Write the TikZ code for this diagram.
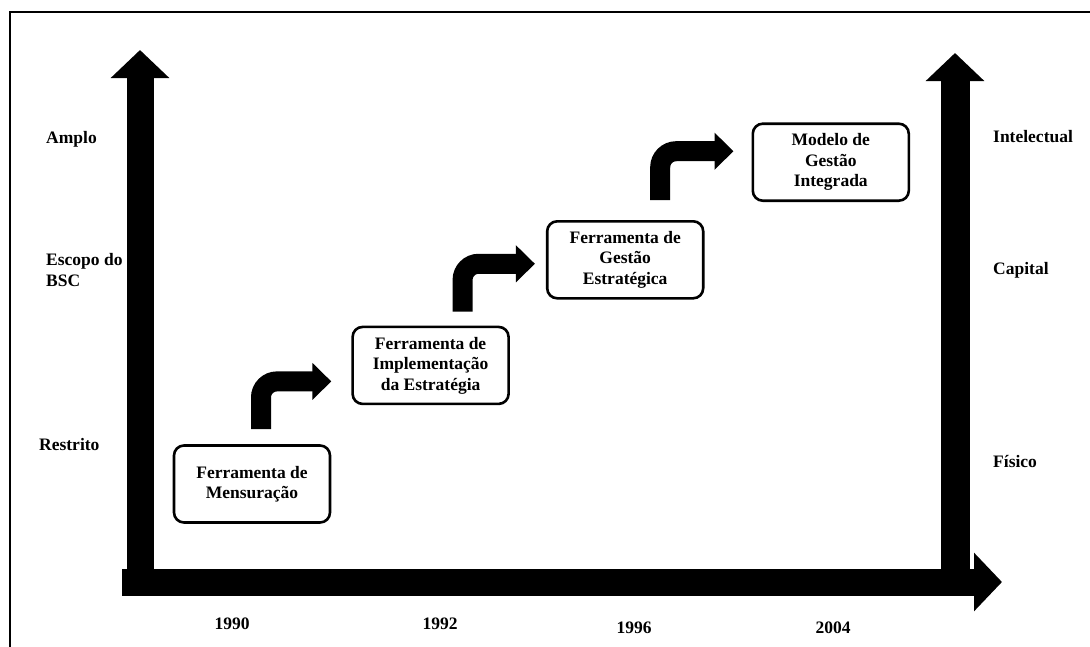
\documentclass[tikz,border=0pt]{standalone}
\usepackage{fontspec}
\setmainfont{Liberation Serif}
\usetikzlibrary{arrows.meta, positioning}

\tikzset{
    stage/.style={draw, rectangle, rounded corners=10pt, line width=2.6pt, minimum width=156pt, minimum height=77pt, align=center, font=\fontsize{17.5}{20.5}\selectfont\bfseries},
    axislabel/.style={font=\fontsize{17.5}{21}\selectfont\bfseries, align=left, inner sep=0pt},
    yearlabel/.style={font=\fontsize{17.5}{21}\selectfont\bfseries, inner sep=0pt},
    turnarrow/.style={line width=20pt, rounded corners=16pt, -{Triangle[length=19pt, width=36pt]}},
    axisarrow/.style={line width=27pt, -{Triangle[length=28pt, width=57pt]}}
}

\begin{document}
\begin{tikzpicture}[x=1pt, y=-1pt]
        \useasboundingbox (0,0) rectangle (1090,646);
        % Frame
        \draw[line width=2pt] (10,12) rectangle (1110,670);

        % Axes
        \draw[axisarrow] (122,582) -- (1002,582);
        \draw[axisarrow] (140,595) -- (140,50);
        \draw[axisarrow, line width=29pt] (955,595) -- (955,53);

        % Stages
        \node[stage] (mensuracao) at (252,484) {Ferramenta de\\Mensuração};
        \node[stage, above right=39pt and 20pt of mensuracao.north east, anchor=south west] (implementacao) {Ferramenta de\\Implementação\\da Estratégia};
        \node[stage, above right=26pt and 36pt of implementacao.north east, anchor=south west] (estrategica) {Ferramenta de\\Gestão\\Estratégica};
        \node[stage, above right=18pt and 47pt of estrategica.north east, anchor=south west] (integrada) {Modelo de\\Gestão\\Integrada};

        % Left scale
        \node[axislabel, anchor=west] (amplo) at (46,139) {Amplo};
        \node[axislabel, anchor=west] (escopo) at (46,270) {Escopo do\\BSC};
        \node[axislabel, anchor=west] (restrito) at (39,445) {Restrito};

        % Right scale
        \node[axislabel, anchor=west] (intelectual) at (993,137) {Intelectual};
        \node[axislabel, anchor=west] (capital) at (993,270) {Capital};
        \node[axislabel, anchor=west] (fisico) at (993,461) {Físico};

        % Years
        \node[yearlabel] (y1990) at (232,624) {1990};
        \node[yearlabel] (y1992) at (440,624) {1992};
        \node[yearlabel] (y1996) at (634,628) {1996};
        \node[yearlabel] (y2004) at (833,628) {2004};

        % Steps
        \draw[turnarrow] ([xshift=9pt, yshift=15pt]mensuracao.north) |- ([xshift=-20pt, yshift=-16pt]implementacao.west);
        \draw[turnarrow] ([xshift=32pt, yshift=14pt]implementacao.north) |- ([xshift=-11pt, yshift=-4pt]estrategica.west);
        \draw[turnarrow] ([xshift=35pt, yshift=20pt]estrategica.north) |- ([xshift=-18pt, yshift=11pt]integrada.west);
    \end{tikzpicture}
\end{document}
